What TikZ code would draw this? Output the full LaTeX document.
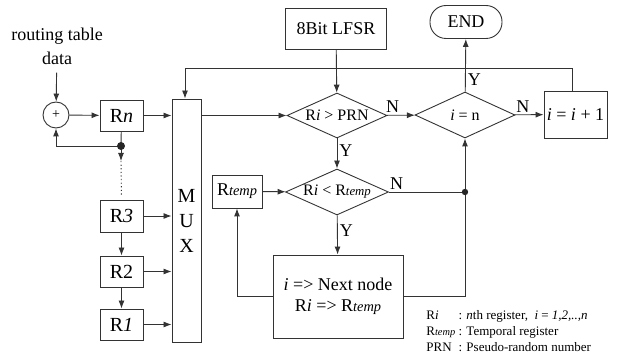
\documentclass[tikz,border=0pt]{standalone}
\usepackage{fontspec}
\setmainfont{Liberation Serif}
\usepackage{graphicx}
\usetikzlibrary{arrows.meta, shapes.geometric}
\newcommand{\tmp}{\scalebox{0.8}{\itshape temp}}

\begin{document}
\begin{tikzpicture}[x=0.5pt, y=-0.5pt,
    line/.style={draw=black!80, line width=0.45pt},
    arr/.style={line, -{Latex[length=4pt, width=3pt]}},
    box/.style={draw=black!80, line width=0.45pt, inner sep=0pt, font=\fontsize{9}{10.5}\selectfont},
    regbox/.style={box, minimum width=21.5pt, minimum height=15.5pt, font=\fontsize{10}{12}\selectfont},
    decision/.style={diamond, draw=black!80, line width=0.45pt, inner sep=0pt, aspect=2.2, font=\fontsize{8}{10}\selectfont},
    lbl/.style={font=\fontsize{9}{11}\selectfont, inner sep=1pt}]
  \useasboundingbox (0,0) rectangle (634,358);

  % Input and registers
  \node[lbl, align=center, font=\fontsize{9}{12}\selectfont] (rtd) at (57,46) {routing table\\data};
  \node[circle, draw=black!80, line width=0.45pt, minimum size=13pt, inner sep=0pt] (add) at (56,115) {\fontsize{7}{8}\selectfont +};
  \node[regbox] (rn) at (121.5,115.5) {R\textit{n}};
  \node[regbox, minimum height=16pt] (r3) at (121.5,216) {R\textit{3}};
  \node[regbox] (r2) at (121.5,271.5) {R2};
  \node[regbox] (r1) at (121.5,324.5) {R\textit{1}};
  \node[box, minimum width=14.5pt, minimum height=121.5pt, align=center, font=\fontsize{10}{12.5}\selectfont] (mux) at (186.5,220.5) {M\\U\\X};
  \coordinate (split) at (121,146);
  \coordinate (gap) at (121,161);

  % Decision chain
  \node[box, minimum width=50.5pt, minimum height=20.5pt] (lfsr) at (336,28.5) {8Bit LFSR};
  \node[box, rounded corners=8pt, minimum width=36pt, minimum height=16.5pt] (end) at (466,22) {END};
  \node[decision, minimum width=50pt, minimum height=22.5pt] (cmp) at (337,115.5) {R\textit{i} > PRN};
  \node[decision, minimum width=50pt, minimum height=23pt] (last) at (465,115) {\textit{i} = n};
  \node[box, minimum width=31.5pt, minimum height=23.5pt] (inc) at (575.5,114.5) {\textit{i} = \textit{i} + 1};
  \node[decision, minimum width=51.5pt, minimum height=23pt] (cmpt) at (337,192) {R\textit{i} < R\tmp};
  \node[box, minimum width=25pt, minimum height=16.5pt] (rtmp) at (237,191.5) {R\tmp};
  \node[box, minimum width=65pt, minimum height=41.5pt, align=center] (next) at (338,296.5) {\textit{i} => Next node\\R\textit{i} => R\tmp};
  \coordinate (join) at (last.south |- cmpt);
  \coordinate (fbR) at (572,68);
  \coordinate (fbL) at (185,68);

  % Register connectors
  \draw[arr, shorten <=3pt] (rtd) -- (add);
  \draw[arr] (add) -- (rn);
  \draw[line] (rn) -- (split);
  \draw[arr] (split) -| (add.south);
  \draw[arr] (split) -- (gap);
  \draw[line, dash pattern=on 0.6pt off 1.2pt, shorten >=2.5pt] (gap) -- (r3.north);
  \draw[arr] (r3) -- (r2);
  \draw[arr] (r2) -- (r1);
  \draw[arr] (rn) -- (rn -| mux.west);
  \draw[arr] (r3) -- (r3 -| mux.west);
  \draw[arr] (r2) -- (r2 -| mux.west);
  \draw[arr] (r1) -- (r1 -| mux.west);
  \fill[black!85] (split) circle (2pt);

  % Flow connectors
  \draw[arr] (mux.east |- cmp) -- (cmp.west);
  \draw[arr] (lfsr) -- (cmp);
  \draw[arr] (cmp) -- node[lbl, above, pos=0.2] {N} (last);
  \draw[arr] (cmp) -- node[lbl, right, pos=0.4] {Y} (cmpt);
  \draw[arr] (last) -- node[lbl, above, pos=0.28] {N} (inc);
  \draw[arr] (last) -- node[lbl, right, pos=0.22] {Y} (end);
  \draw[arr] (inc.north -| fbR) |- (fbL) -- (fbL |- mux.north);
  \draw[arr] (rtmp) -- (cmpt);
  \draw[arr] (cmpt) -- node[lbl, right, pos=0.38] {Y} (next);
  \draw[line] (cmpt) -- node[lbl, above, pos=0.1] {N} (join);
  \draw[arr] (next.east) -| (last.south);
  \draw[arr] (next.west) -| (rtmp.south);
  \fill[black!85] (join) circle (1.6pt);

  % Legend
  \node[anchor=north west, inner sep=0pt, font=\fontsize{6.5}{8}\selectfont] (legend) at (426,308)
    {\begin{tabular}{@{}l@{\ }l@{}}
      R\textit{i} & : \textit{n}th register,\ \ \textit{i} = \textit{1,2,..,n}\\
      R\tmp & : Temporal register\\
      PRN & : Pseudo-random number
    \end{tabular}};
\end{tikzpicture}
\end{document}
